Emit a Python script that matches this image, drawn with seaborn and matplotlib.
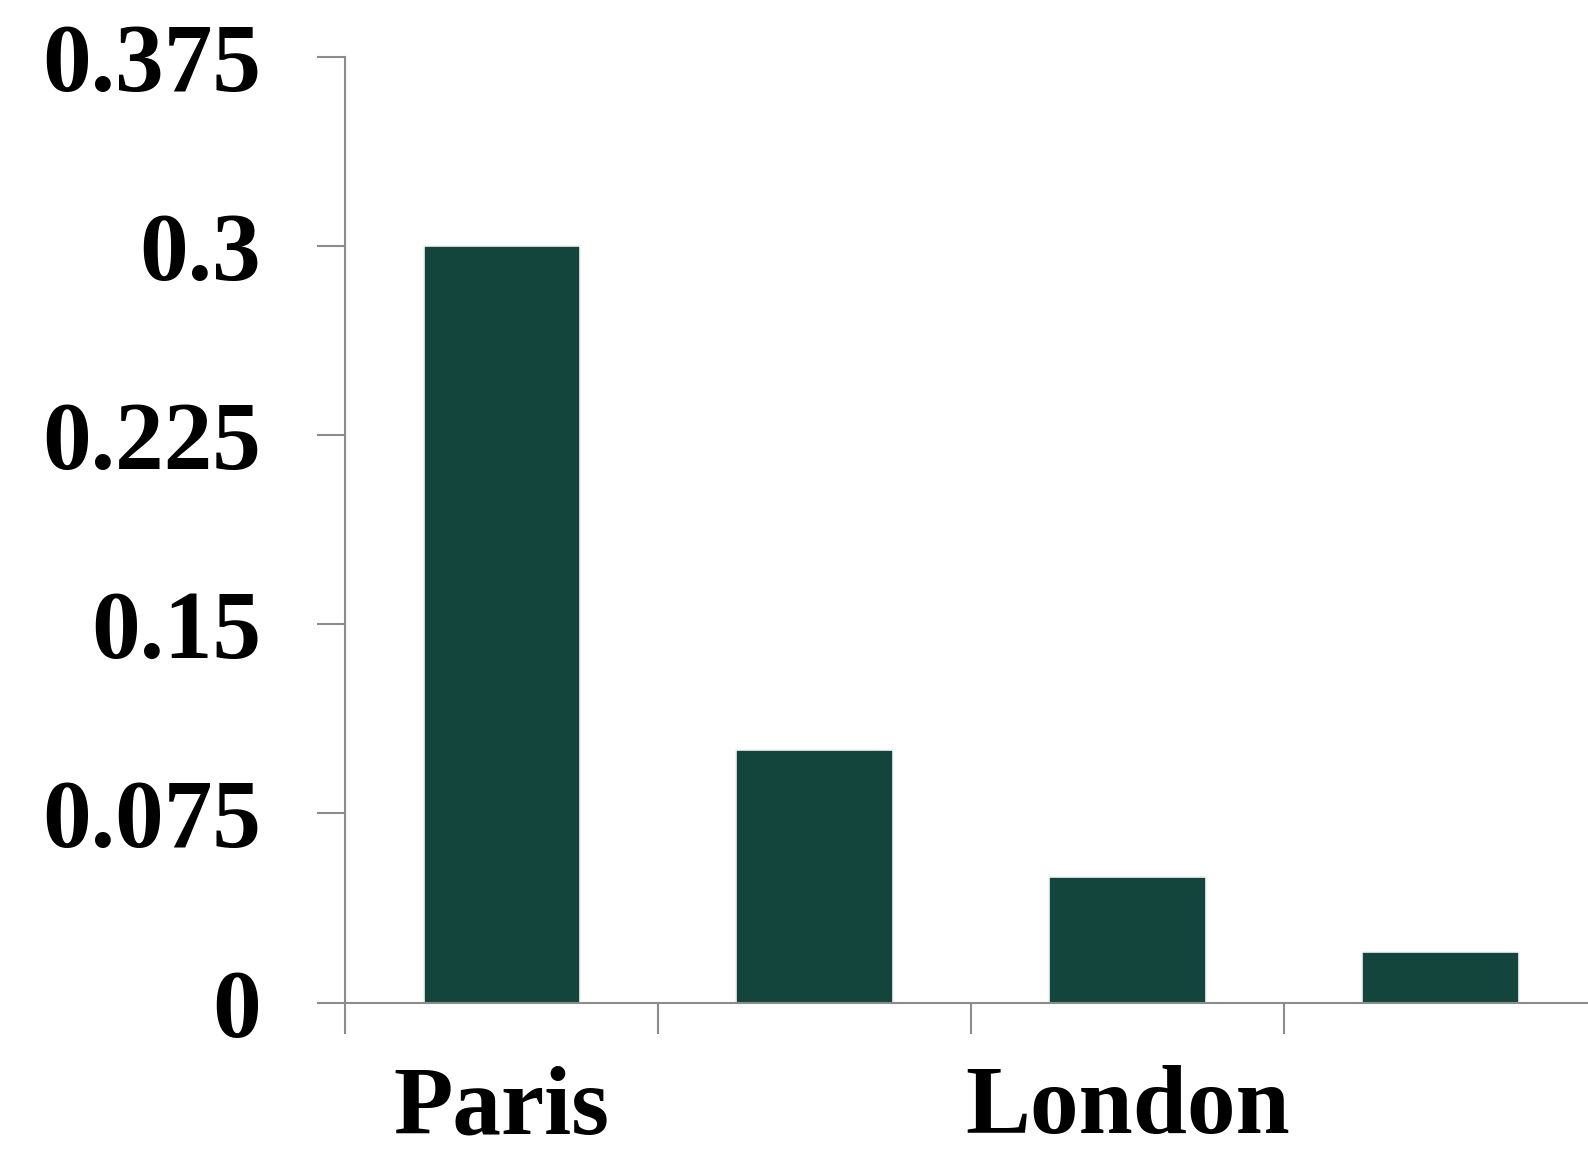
import matplotlib
matplotlib.use("Agg")
import matplotlib.pyplot as plt
import seaborn as sns
import pandas as pd
from matplotlib.ticker import FixedLocator

# Share of visitors per city (four bars, every other category labelled)
categories = ["Paris", "City 2", "London", "City 4"]
values = [0.3, 0.1, 0.05, 0.02]
tick_labels = ["Paris", "", "London", ""]
y_ticks = [0, 0.075, 0.15, 0.225, 0.3, 0.375]
y_tick_labels = ["0", "0.075", "0.15", "0.225", "0.3", "0.375"]

sns.set_theme(style="white")
plt.rcParams["font.family"] = ["Liberation Serif", "DejaVu Serif"]
plt.rcParams["font.weight"] = "bold"
plt.rcParams["text.color"] = "black"
plt.rcParams["xtick.labelcolor"] = "black"
plt.rcParams["ytick.labelcolor"] = "black"

df = pd.DataFrame({"city": categories, "value": values})

fig = plt.figure(figsize=(15.88, 11.59), dpi=100)
ax = fig.add_axes([0.2175, 0.1349, 0.788, 0.8162])

sns.barplot(data=df, x="city", y="value", order=categories, color="#14453D",
            saturation=1, width=0.5, edgecolor="#f2f2f2", linewidth=1.2, ax=ax)

ax.set_xlim(-0.5, len(categories) - 0.5)
ax.set_ylim(0, 0.375)
ax.set_xlabel("")
ax.set_ylabel("")

spine_color = "#8c8c8c"
for side in ("top", "right"):
    ax.spines[side].set_visible(False)
for side in ("left", "bottom"):
    ax.spines[side].set_color(spine_color)
    ax.spines[side].set_linewidth(1.5)

ax.set_yticks(y_ticks)
ax.set_yticklabels(y_tick_labels, fontsize=70, fontweight="bold", color="black")
ax.tick_params(axis="y", which="major", length=20.5, width=1.5, color=spine_color,
               pad=40, left=True, labelcolor="black")

ax.set_xticks(range(len(categories)))
ax.set_xticklabels(tick_labels, fontsize=70, fontweight="bold", color="black")
ax.xaxis.set_minor_locator(FixedLocator([i - 0.5 for i in range(len(categories) + 1)]))
ax.tick_params(axis="x", which="major", length=0, pad=45, bottom=True,
               labelcolor="black")
ax.tick_params(axis="x", which="minor", length=22, width=1.5, color=spine_color,
               bottom=True)
ax.grid(False)

fig.savefig("out.png", dpi=100)
